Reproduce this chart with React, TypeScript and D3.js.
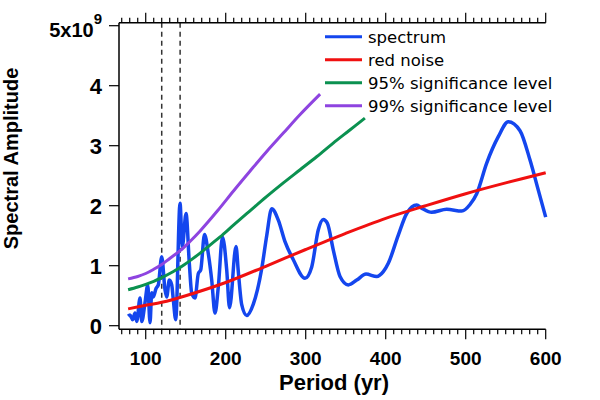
import React from "react";
import * as d3 from "d3";

// ---- data (amplitudes in units of 1e9) ----
const spectrumPeriod = [78, 80.4, 83.75, 86.6, 88.75, 92.9, 95, 99.1, 102.5, 105.4, 107.5, 109.5, 112.9, 115.75, 120, 124.1, 126.25, 129.5, 132.5, 134.5, 137.5, 142.9, 145.75, 150.4, 154.5, 157.5, 161.6, 165.75, 168.75, 173.5, 178.25, 182.5, 186.6, 190.75, 196, 201.25, 204.75, 212.9, 215.75, 220, 226.25, 234.5, 245, 251.25, 257.5, 265.75, 274.1, 284.5, 299.1, 307.5, 315.75, 322, 327, 334.5, 342.9, 353.25, 363.75, 375.4, 388.75, 397, 403.25, 415.75, 426.25, 438.75, 445, 457.5, 476.25, 495, 505.4, 513.75, 526.25, 540.75, 553.25, 567.9, 580.4, 590.75, 600];
const spectrumAmp = [0.16, 0.18, 0.1, 0.21, 0.07, 0.46, 0.07, 0.38, 0.68, 0.05, 0.55, 0.48, 0.62, 0.68, 1.15, 0.6, 0.48, 0.76, 0.68, 0.43, 0.1, 2.04, 1.32, 1.87, 1.04, 0.54, 0.46, 0.87, 0.93, 1.52, 1.2, 0.76, 0.21, 0.65, 1.48, 0.93, 0.3, 1.32, 0.9, 0.35, 0.17, 0.36, 0.95, 1.5, 1.95, 1.76, 1.4, 1.1, 0.79, 0.98, 1.6, 1.77, 1.71, 1.26, 0.82, 0.68, 0.76, 0.86, 0.82, 0.9, 1.04, 1.51, 1.87, 2.01, 1.96, 1.89, 1.94, 1.91, 2.02, 2.2, 2.71, 3.15, 3.4, 3.25, 2.76, 2.26, 1.81];

const redPeriod = [78, 100, 120, 150, 200, 250, 300, 350, 400, 450, 500, 550, 600];
const redAmp = [0.28, 0.34, 0.39, 0.5, 0.72, 0.99, 1.27, 1.54, 1.79, 2.0, 2.2, 2.38, 2.55];

const sig95Period = [78, 90, 100, 110, 120, 130, 143, 155, 168, 180, 193, 210, 230, 251, 272, 293, 314, 334, 354, 374];
const sig95Amp = [0.6, 0.645, 0.69, 0.74, 0.8, 0.87, 0.97, 1.08, 1.21, 1.34, 1.48, 1.68, 1.91, 2.15, 2.38, 2.6, 2.82, 3.04, 3.25, 3.46];

const sig99Period = [78, 90, 100, 110, 120, 130, 143, 155, 168, 190, 210, 230, 251, 272, 293, 318];
const sig99Amp = [0.78, 0.82, 0.87, 0.94, 1.02, 1.12, 1.25, 1.4, 1.58, 1.92, 2.25, 2.57, 2.9, 3.21, 3.52, 3.86];

const markerPeriods = [120, 143];

const xTickValues = [100, 200, 300, 400, 500, 600];
const xTickLabels = ["100", "200", "300", "400", "500", "600"];
const yTickValues = [0, 1, 2, 3, 4, 5];
const yTickLabels = ["0", "1", "2", "3", "4", "5x10"];

const legendLabels = ["spectrum", "red noise", "95% significance level", "99% significance level"];
const seriesColors = ["#1446ee", "#f01010", "#0b9150", "#8e44e0"];

export default function App() {
  const x = d3.scaleLinear().domain([66.6, 600]).range([119, 545.7]);
  const y = d3.scaleLinear().domain([-0.06, 5.05]).range([329.3, 22.7]);

  const spectrumLine = d3
    .line<[number, number]>()
    .x((d) => x(d[0]))
    .y((d) => y(d[1]))
    .curve(d3.curveMonotoneX);
  const smoothLine = d3
    .line<[number, number]>()
    .x((d) => x(d[0]))
    .y((d) => y(d[1]))
    .curve(d3.curveCatmullRom.alpha(0.5));

  const zip = (a: number[], b: number[]) => a.map((v, i) => [v, b[i]] as [number, number]);
  const series = [
    zip(spectrumPeriod, spectrumAmp),
    zip(redPeriod, redAmp),
    zip(sig95Period, sig95Amp),
    zip(sig99Period, sig99Amp),
  ];

  const minorTicks = d3.range(70, 601, 10);
  const [x0, x1] = x.range();
  const [yb, yt] = y.range();
  const bold = "'Liberation Sans', Arial, Helvetica, sans-serif";

  return (
    <svg
      width={600}
      height={400}
      style={{ position: "fixed", left: 0, top: 0, background: "#fff" }}
    >
      {/* dashed markers */}
      {markerPeriods.map((p) => (
        <line
          key={p}
          x1={x(p)}
          x2={x(p)}
          y1={yt}
          y2={yb}
          stroke="#333"
          strokeWidth={1.5}
          strokeDasharray="5,4"
        />
      ))}

      {/* series */}
      {series.map((s, i) => (
        <path
          key={i}
          d={(i === 0 ? spectrumLine(s) : smoothLine(s)) || ""}
          fill="none"
          stroke={seriesColors[i]}
          strokeWidth={i === 0 ? 3.5 : 3}
          strokeLinejoin="round"
        />
      ))}

      {/* bottom axis */}
      <line x1={x0} x2={x1} y1={yb} y2={yb} stroke="#000" strokeWidth={1.5} />
      {minorTicks.map((t) => (
        <line
          key={"b" + t}
          x1={x(t)}
          x2={x(t)}
          y1={yb}
          y2={yb + (t % 100 === 0 ? 10 : 5)}
          stroke="#000"
          strokeWidth={1.2}
        />
      ))}
      {xTickValues.map((t, i) => (
        <text
          key={"bl" + t}
          x={x(t)}
          y={365}
          textAnchor="middle"
          fontFamily={bold}
          fontWeight="bold"
          fontSize={19}
        >
          {xTickLabels[i]}
        </text>
      ))}

      {/* top axis */}
      <line x1={x0} x2={x1} y1={yt} y2={yt} stroke="#000" strokeWidth={1.5} />
      {minorTicks.map((t) => (
        <line
          key={"t" + t}
          x1={x(t)}
          x2={x(t)}
          y1={yt}
          y2={yt - (t % 100 === 0 ? 10 : 5)}
          stroke="#000"
          strokeWidth={1.2}
        />
      ))}

      {/* left axis */}
      <line x1={x0} x2={x0} y1={yb} y2={yt} stroke="#000" strokeWidth={1.5} />
      {yTickValues.map((t, i) => (
        <g key={"y" + t}>
          <line x1={x0 - 10} x2={x0} y1={y(t)} y2={y(t)} stroke="#000" strokeWidth={1.2} />
          {i < yTickValues.length - 1 ? (
            <text
              x={102}
              y={y(t) + 8}
              textAnchor="end"
              fontFamily={bold}
              fontWeight="bold"
              fontSize={22}
            >
              {yTickLabels[i]}
            </text>
          ) : (
            <text
              x={102}
              y={y(t) + 11.6}
              textAnchor="end"
              fontFamily={bold}
              fontWeight="bold"
              fontSize={20}
            >
              {yTickLabels[i]}
              <tspan dy={-13} fontSize={15}>
                9
              </tspan>
            </text>
          )}
        </g>
      ))}

      {/* axis titles */}
      <text
        x={334}
        y={390}
        textAnchor="middle"
        fontFamily={bold}
        fontWeight="bold"
        fontSize={22}
      >
        Period (yr)
      </text>
      <text
        transform="translate(18,158.5) rotate(-90)"
        textAnchor="middle"
        fontFamily={bold}
        fontWeight="bold"
        fontSize={20}
      >
        Spectral Amplitude
      </text>

      {/* legend */}
      {legendLabels.map((lab, i) => {
        const ly = 36.7 + i * 23;
        return (
          <g key={lab}>
            <line x1={325} x2={362} y1={ly} y2={ly} stroke={seriesColors[i]} strokeWidth={3} />
            <text
              x={368}
              y={ly + 6}
              fontFamily="'DejaVu Sans', Verdana, sans-serif"
              fontSize={16.5}
              fill="#000"
            >
              {lab}
            </text>
          </g>
        );
      })}
    </svg>
  );
}
